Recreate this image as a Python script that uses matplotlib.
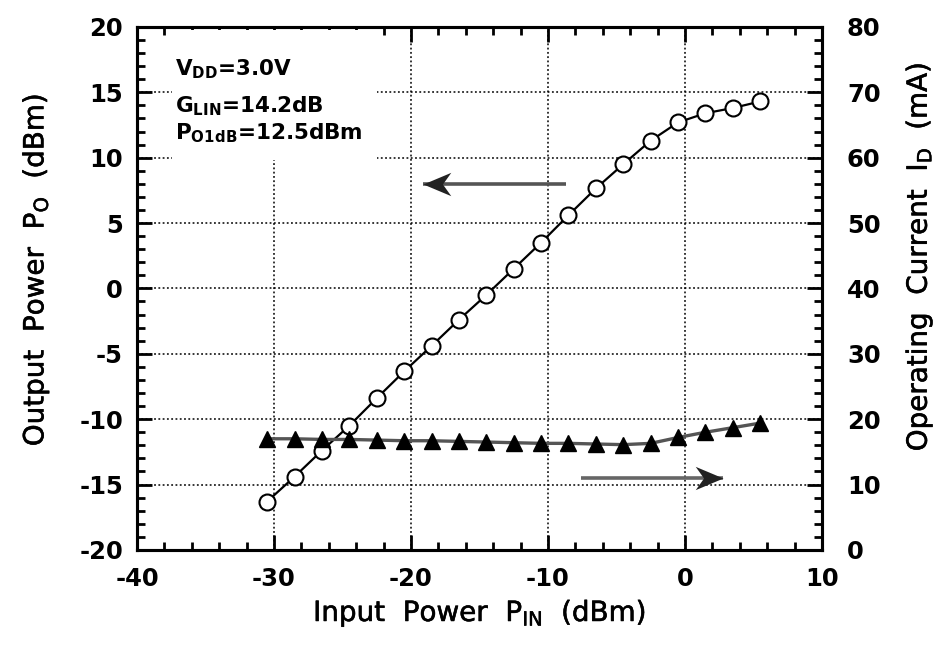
import matplotlib
matplotlib.use("Agg")
import matplotlib.pyplot as plt
from matplotlib.patches import Rectangle
from matplotlib.path import Path
from matplotlib.ticker import MultipleLocator
import matplotlib.patheffects as pe

plt.rcParams['font.family'] = ['DejaVu Sans']
plt.rcParams['mathtext.fontset'] = 'dejavusans'

# ---- data ----
pin_dbm = [-30.5, -28.5, -26.5, -24.5, -22.5, -20.5, -18.5, -16.5, -14.5, -12.5,
           -10.5, -8.5, -6.5, -4.5, -2.5, -0.5, 1.5, 3.5, 5.5]
pout_dbm = [-16.3, -14.4, -12.4, -10.5, -8.4, -6.35, -4.4, -2.4, -0.5, 1.5,
            3.5, 5.6, 7.65, 9.5, 11.3, 12.7, 13.4, 13.8, 14.3]
id_ma = [17.0, 17.0, 16.9, 16.9, 16.8, 16.7, 16.7, 16.6, 16.5, 16.4,
         16.3, 16.3, 16.2, 16.1, 16.3, 17.2, 18.0, 18.7, 19.4]
x_ticks = [-40, -30, -20, -10, 0, 10]
y_left_ticks = [-20, -15, -10, -5, 0, 5, 10, 15, 20]
y_right_ticks = [0, 10, 20, 30, 40, 50, 60, 70, 80]
inset_lines = [r"V$_{\mathbf{DD}}$=3.0V", r"G$_{\mathbf{LIN}}$=14.2dB", r"P$_{\mathbf{O1dB}}$=12.5dBm"]
# arrows (annotation): (tail_x, head_x, y on left axis)
arrow_po = (-8.7, -19.1, 8.0)
arrow_id = (-7.6, 2.8, -14.5)

fig = plt.figure(figsize=(9.48, 6.57), dpi=100)
ax = fig.add_axes([0.1445, 0.163, 0.7225, 0.796])
ax2 = ax.twinx()

ax.set_xlim(-40, 10)
ax.set_ylim(-20, 20)
ax2.set_ylim(0, 80)

ax.set_xticks(x_ticks)
ax.set_yticks(y_left_ticks)
ax2.set_yticks(y_right_ticks)
ax.xaxis.set_minor_locator(MultipleLocator(2))
ax.yaxis.set_minor_locator(MultipleLocator(1))
ax2.yaxis.set_minor_locator(MultipleLocator(2))

tick_font = dict(fontsize=17.5, fontweight='bold')
ax.set_xticklabels([str(v) for v in x_ticks], **tick_font)
ax.set_yticklabels([str(v) for v in y_left_ticks], **tick_font)
ax2.set_yticklabels([str(v) for v in y_right_ticks], **tick_font)

ax.tick_params(which='both', direction='in', top=True, right=False, width=2)
ax.tick_params(which='major', length=11)
ax.tick_params(which='minor', length=6)
ax.tick_params(axis='x', which='major', pad=12)
ax.tick_params(axis='y', which='major', pad=10)
ax2.tick_params(which='both', direction='in', width=2)
ax2.tick_params(which='major', length=11, pad=18)
ax2.tick_params(which='minor', length=6)

for a in (ax, ax2):
    for s in a.spines.values():
        s.set_linewidth(2.2)

ax.grid(True, which='major', linestyle=(0, (1.2, 1.6)), color='black', linewidth=1.1)

# white box behind the inset text
ax.add_patch(Rectangle((0.051, 0.745), 0.30, 0.25, transform=ax.transAxes,
                       facecolor='white', edgecolor='none', zorder=2))

inset_y = [0.908, 0.837, 0.784]
for line, yy in zip(inset_lines, inset_y):
    ax.text(0.0555, yy, line, transform=ax.transAxes, fontsize=15.5,
            fontweight='bold', va='baseline', ha='left', zorder=3)

ax.plot(pin_dbm, pout_dbm, '-o', color='black', linewidth=1.6, markersize=11.5,
        markerfacecolor='white', markeredgecolor='black', markeredgewidth=1.5, zorder=5)
ax2.plot(pin_dbm, id_ma, '-^', color='#555555', linewidth=2.4, markersize=11.5,
         markerfacecolor='black', markeredgecolor='black', zorder=5)

# concave arrow heads
head_left = Path([(0, 0), (1.0, 0.42), (0.7, 0), (1.0, -0.42), (0, 0)],
                 [Path.MOVETO, Path.LINETO, Path.LINETO, Path.LINETO, Path.CLOSEPOLY])
head_right = Path([(0, 0), (-1.0, 0.42), (-0.7, 0), (-1.0, -0.42), (0, 0)],
                  [Path.MOVETO, Path.LINETO, Path.LINETO, Path.LINETO, Path.CLOSEPOLY])
for (tx, hx, yy), head, col in ((arrow_po, head_left, '#555555'), (arrow_id, head_right, '#666666')):
    ax.plot([tx, hx], [yy, yy], color=col, linewidth=2.6, solid_capstyle='butt', zorder=4)
    ax.plot([hx], [yy], marker=head, markersize=40, color='#222222',
            markeredgewidth=0, linestyle='none', zorder=4)

label_fx = [pe.withStroke(linewidth=0.4, foreground='black')]
xl = ax.set_xlabel(r"Input  Power  P$_{\mathrm{IN}}$  (dBm)", fontsize=20)
yl = ax.set_ylabel(r"Output  Power  P$_{\mathrm{O}}$  (dBm)", fontsize=20)
yr = ax2.set_ylabel(r"Operating  Current  I$_{\mathrm{D}}$  (mA)", fontsize=20)
for t in (xl, yl, yr):
    t.set_path_effects(label_fx)
ax.xaxis.set_label_coords(0.5, -0.09)
ax.yaxis.set_label_coords(-0.125, 0.535)
ax2.yaxis.set_label_coords(1.118, 0.56)

fig.savefig('out.png', dpi=100)
